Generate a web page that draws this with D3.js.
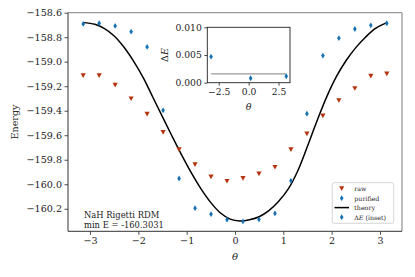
<!DOCTYPE html>
<html><head><meta charset="utf-8">
<script src="https://cdn.jsdelivr.net/npm/d3@7"></script>
<style>
html,body{margin:0;padding:0;background:#fff;}
svg text{font-family:"DejaVu Serif",serif;fill:#222;}
</style></head>
<body><svg id="c" width="415" height="277"></svg>
<script>
// ---- data ----
const theta = [-3.1416,-2.8109,-2.4802,-2.1495,-1.8189,-1.4882,-1.1575,-0.8268,-0.4961,-0.1654,
               0.1654,0.4961,0.8268,1.1575,1.4882,1.8189,2.1495,2.4802,2.8109,3.1416];
const rawE = [-159.113,-159.113,-159.191,-159.302,-159.427,-159.576,-159.717,-159.839,-159.939,-159.975,
              -159.951,-159.915,-159.861,-159.717,-159.589,-159.441,-159.316,-159.218,-159.117,-159.099];
const purifiedE = [-158.692,-158.686,-158.708,-158.755,-158.879,-159.397,-159.953,-160.195,-160.244,-160.289,
                   -160.3031,-160.287,-160.238,-159.972,-159.424,-158.950,-158.808,-158.733,-158.703,-158.686];
const theoryTheta = [-3.1416,-2.9,-2.7,-2.5,-2.3,-2.1,-1.9,-1.7,-1.5,-1.3,-1.1,-0.9,-0.7,-0.5,-0.3,-0.1,
                     0.1,0.3,0.5,0.7,0.9,1.1,1.3,1.5,1.7,1.9,2.1,2.3,2.5,2.7,2.9,3.1416];
const theoryE = [-158.681,-158.695,-158.730,-158.790,-158.880,-158.995,-159.130,-159.290,-159.450,-159.610,
                 -159.765,-159.910,-160.040,-160.150,-160.235,-160.285,
                 -160.300,-160.290,-160.265,-160.215,-160.140,-160.040,-159.890,-159.690,-159.480,-159.285,
                 -159.120,-158.990,-158.885,-158.800,-158.730,-158.681];
const insetTheta = [-3.1416,0.1654,3.1416];
const deltaE = [0.0047,0.0008,0.00116];
const chemAcc = 0.0016;
const xTicks = [-3,-2,-1,0,1,2,3];
const yTicks = [-158.6,-158.8,-159.0,-159.2,-159.4,-159.6,-159.8,-160.0,-160.2];
const insetXTicks = [-2.5,0,2.5];
const insetYTicks = [0,0.005,0.010];
const legendLabels = ["raw","purified","theory","ΔE (inset)"];
const noteLines = ["NaH Rigetti RDM","min E = -160.3031"];

// ---- drawing ----
const red = "#b5330f", blue = "#1470b5";
const svg = d3.select("#c");
const L=68, R=402, T=12.7, B=231.3;
const x = d3.scaleLinear().domain([-3.456,3.456]).range([L,R]);
const y = d3.scaleLinear().domain([-160.384,-158.600]).range([B,T]);
const fmtMinus = s => s.replace("-","−");

// writes "ΔE..." with an italic E
function deltaText(sel, s){
  sel.append("tspan").text("Δ");
  sel.append("tspan").attr("font-style","italic").text("E");
  const rest = s.slice(2);
  if (rest) sel.append("tspan").text(rest);
}

// axes
const xAxis = svg.append("g").attr("transform",`translate(0,${B})`)
  .call(d3.axisBottom(x).tickValues(xTicks).tickSize(3.5).tickPadding(2.5).tickFormat(d=>fmtMinus(d3.format("d")(d))));
const yAxis = svg.append("g").attr("transform",`translate(${L},0)`)
  .call(d3.axisLeft(y).tickValues(yTicks).tickSize(3.5).tickPadding(2.5).tickFormat(d=>fmtMinus(d3.format(".1f")(d))));
[xAxis,yAxis].forEach(g=>{
  g.select(".domain").remove();
  g.selectAll("line").attr("stroke","#222").attr("stroke-width",0.8);
  g.selectAll("text").attr("font-size",9.6).attr("font-family","DejaVu Serif").attr("fill","#222");
});
// spines
svg.append("line").attr("x1",L).attr("x2",R).attr("y1",T).attr("y2",T).attr("stroke","#999").attr("stroke-width",1.3);
svg.append("line").attr("x1",R).attr("x2",R).attr("y1",T).attr("y2",B).attr("stroke","#999").attr("stroke-width",1.3);
svg.append("line").attr("x1",L).attr("x2",R).attr("y1",B).attr("y2",B).attr("stroke","#333").attr("stroke-width",1);
svg.append("line").attr("x1",L).attr("x2",L).attr("y1",T).attr("y2",B).attr("stroke","#333").attr("stroke-width",1);

// labels
svg.append("text").attr("x",x(0)).attr("y",260).attr("text-anchor","middle").attr("font-size",10).attr("font-style","italic").text("θ");
svg.append("text").attr("transform",`translate(18,${(T+B)/2}) rotate(-90)`).attr("text-anchor","middle").attr("font-size",9.6).text("Energy");

// theory line
const line = d3.line().x(d=>x(d[0])).y(d=>y(d[1])).curve(d3.curveCatmullRom);
svg.append("path").datum(theoryTheta.map((t,i)=>[t,theoryE[i]]))
  .attr("d",line).attr("fill","none").attr("stroke","#000").attr("stroke-width",1.5);

const tri = "M-2.6,-2.3L2.6,-2.3L0,2.4Z";
const dia = "M0,-2.9L1.8,0L0,2.9L-1.8,0Z";
svg.append("g").selectAll("path").data(theta).join("path")
  .attr("transform",(t,i)=>`translate(${x(t)},${y(rawE[i])})`).attr("d",tri).attr("fill",red);
svg.append("g").selectAll("path").data(theta).join("path")
  .attr("transform",(t,i)=>`translate(${x(t)},${y(purifiedE[i])})`).attr("d",dia).attr("fill",blue);

// annotation
noteLines.forEach((s,i)=>svg.append("text").attr("x",84).attr("y",217.7+i*10.6).attr("font-size",8.4).text(s));

// legend
const lg = svg.append("g");
lg.append("rect").attr("x",332.3).attr("y",182.7).attr("width",61.4).attr("height",40.6).attr("rx",2)
  .attr("fill","#fff").attr("fill-opacity",0.85).attr("stroke","#ccc").attr("stroke-width",0.8);
const ly = [188.6,198.2,207.6,217.2];
lg.append("path").attr("transform",`translate(341.7,${ly[0]})`).attr("d",tri).attr("fill",red);
lg.append("path").attr("transform",`translate(341.7,${ly[1]})`).attr("d",dia).attr("fill",blue);
lg.append("line").attr("x1",334.5).attr("x2",349).attr("y1",ly[2]).attr("y2",ly[2]).attr("stroke","#000").attr("stroke-width",1.5);
lg.append("path").attr("transform",`translate(341.7,${ly[3]})`).attr("d",dia).attr("fill",blue);
legendLabels.forEach((s,i)=>{
  const t = lg.append("text").attr("x",354.3).attr("y",ly[i]).attr("dominant-baseline","central").attr("font-size",6.3);
  if (s.startsWith("ΔE")) deltaText(t, s); else t.text(s);
});

// inset
const iL=207.3, iR=290, iT=27.3, iB=82.7;
const ix = d3.scaleLinear().domain([-3.456,3.456]).range([iL,iR]);
const iy = d3.scaleLinear().domain([0,0.010]).range([iB,iT]);
svg.append("rect").attr("x",iL).attr("y",iT).attr("width",iR-iL).attr("height",iB-iT).attr("fill","#fff");
const ixa = svg.append("g").attr("transform",`translate(0,${iB})`)
  .call(d3.axisBottom(ix).tickValues(insetXTicks).tickSize(3).tickPadding(2.5).tickFormat(d=>fmtMinus(d3.format(".1f")(d))));
const iya = svg.append("g").attr("transform",`translate(${iL},0)`)
  .call(d3.axisLeft(iy).tickValues(insetYTicks).tickSize(3).tickPadding(2.5).tickFormat(d=>d3.format(".3f")(d)));
[ixa,iya].forEach(g=>{
  g.select(".domain").remove();
  g.selectAll("line").attr("stroke","#222").attr("stroke-width",0.8);
  g.selectAll("text").attr("font-size",9.2).attr("font-family","DejaVu Serif").attr("fill","#222");
});
svg.append("line").attr("x1",ix(insetTheta[0])).attr("x2",ix(insetTheta[2])).attr("y1",iy(chemAcc)).attr("y2",iy(chemAcc))
  .attr("stroke","#999").attr("stroke-width",1.4);
svg.append("g").selectAll("path").data(insetTheta).join("path")
  .attr("transform",(t,i)=>`translate(${ix(t)},${iy(deltaE[i])})`).attr("d",dia).attr("fill",blue);
svg.append("rect").attr("x",iL).attr("y",iT).attr("width",iR-iL).attr("height",iB-iT).attr("fill","none").attr("stroke","#222").attr("stroke-width",0.9);
svg.append("text").attr("x",ix(0)).attr("y",110).attr("text-anchor","middle").attr("font-size",9.6).attr("font-style","italic").text("θ");
deltaText(svg.append("text").attr("transform",`translate(168,55) rotate(-90)`).attr("text-anchor","middle").attr("font-size",9.6), "ΔE");
</script></body></html>
